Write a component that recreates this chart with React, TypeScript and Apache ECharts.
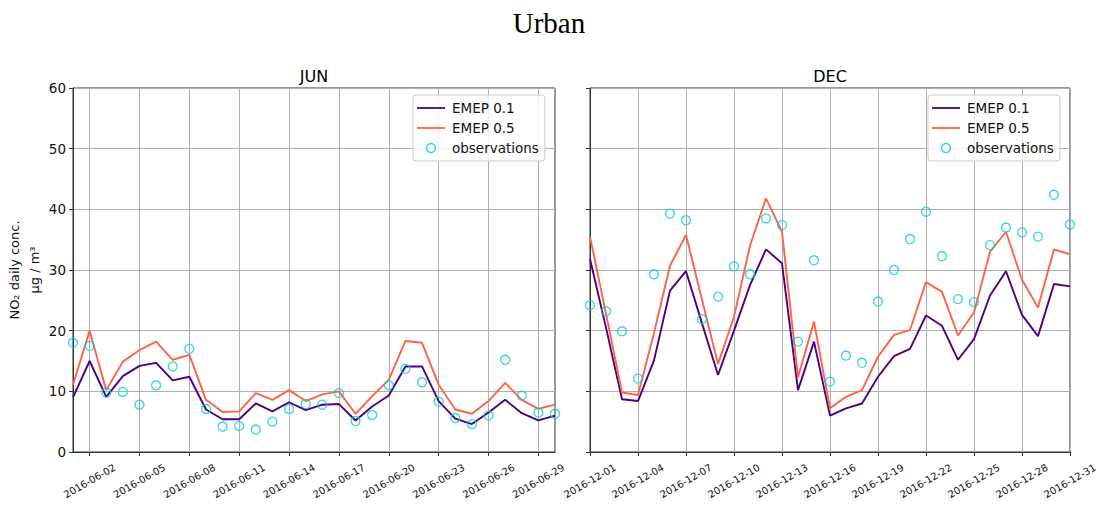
import React, { useEffect, useRef } from "react";
import * as echarts from "echarts";

// Daily dates for each month panel
const monthDates = (prefix: string, days: number): string[] =>
  Array.from({ length: days }, (_, i) => `${prefix}-${String(i + 1).padStart(2, "0")}`);

const junDates = monthDates("2016-06", 30);
const decDates = monthDates("2016-12", 31);

// NO2 daily concentrations (µg / m³), June 2016
const junEmep01 = [9.0, 15.0, 9.1, 12.5, 14.2, 14.7, 11.8, 12.4, 7.0, 5.4, 5.4, 8.0, 6.7, 8.2, 6.9, 7.8, 7.9, 5.2, 7.5, 9.3, 14.1, 14.1, 8.4, 5.5, 4.6, 6.5, 8.6, 6.4, 5.2, 6.0];
const junEmep05 = [11.1, 20.0, 10.2, 14.9, 16.8, 18.2, 15.2, 16.0, 8.6, 6.6, 6.7, 9.7, 8.6, 10.2, 8.4, 9.5, 10.0, 6.3, 9.2, 11.9, 18.3, 18.0, 11.1, 7.0, 6.3, 8.4, 11.4, 8.6, 7.1, 7.8];
const junObs = [18.0, 17.5, 9.8, 9.9, 7.8, 11.0, 14.1, 17.0, 7.1, 4.2, 4.3, 3.7, 5.0, 7.1, 7.9, 7.8, 9.7, 5.1, 6.1, 11.0, 13.7, 11.5, 8.3, 5.6, 4.6, 6.0, 15.2, 9.3, 6.5, 6.3];

// NO2 daily concentrations (µg / m³), December 2016
const decEmep01 = [31.8, 20.5, 8.7, 8.4, 15.1, 26.6, 29.8, 21.2, 12.7, 20.0, 27.5, 33.4, 31.1, 10.2, 18.2, 6.0, 7.2, 8.0, 12.4, 15.8, 17.0, 22.5, 20.8, 15.2, 18.6, 25.8, 29.8, 22.6, 19.1, 27.7, 27.3];
const decEmep05 = [35.5, 22.8, 9.8, 9.4, 19.6, 30.7, 35.8, 25.1, 14.5, 22.3, 34.0, 41.8, 36.3, 12.3, 21.5, 7.2, 9.1, 10.2, 15.7, 19.3, 20.1, 28.0, 26.4, 19.2, 23.0, 33.0, 36.3, 28.4, 23.8, 33.4, 32.6];
const decObs = [24.2, 23.2, 19.9, 12.1, 29.3, 39.3, 38.2, 21.9, 25.6, 30.6, 29.3, 38.5, 37.4, 18.2, 31.6, 11.6, 15.9, 14.7, 24.8, 30.0, 35.1, 39.6, 32.3, 25.2, 24.7, 34.1, 37.0, 36.2, 35.5, 42.4, 37.5];

const seriesNames = ["EMEP 0.1", "EMEP 0.5", "observations"];
const panelTitles = ["JUN", "DEC"];

const FONT = "'DejaVu Sans', 'Noto Sans', sans-serif";
const SERIF = "'Liberation Serif', 'DejaVu Serif', serif";
const PURPLE = "#4b0082";
const ORANGE = "#ff6347";
const CYAN = "#00ced1";
const GRID_LINE = "#b0b0b0";
const SPINE = "#333333";
const TEXT = "#111111";

const LINE_ICON = "path://M0,0H28V1.8H0Z";

const makeXAxis = (gridIndex: number, dates: string[], phase: number) => {
  const every3 = (i: number) => i % 3 === phase;
  return {
    type: "category",
    gridIndex,
    data: dates,
    boundaryGap: false,
    axisLine: { show: true, lineStyle: { color: SPINE, width: 1 } },
    axisTick: { show: true, length: 4, interval: every3, lineStyle: { color: SPINE } },
    axisLabel: {
      interval: every3,
      rotate: 30,
      align: "center",
      verticalAlign: "middle",
      margin: 29,
      fontSize: 10,
      color: TEXT,
      fontFamily: FONT,
    },
    splitLine: { show: true, interval: every3, lineStyle: { color: GRID_LINE, width: 1 } },
  };
};

const makeYAxis = (gridIndex: number, withLabels: boolean) => ({
  type: "value",
  gridIndex,
  min: 0,
  max: 60,
  interval: 10,
  axisLine: { show: true, lineStyle: { color: SPINE, width: 1 } },
  axisTick: { show: true, length: 4, lineStyle: { color: SPINE } },
  axisLabel: { show: withLabels, fontSize: 13.5, color: TEXT, margin: 7, fontFamily: FONT },
  splitLine: { show: true, lineStyle: { color: GRID_LINE, width: 1 } },
  ...(withLabels
    ? {
        name: "NO₂ daily conc.\nµg / m³",
        nameLocation: "middle",
        nameRotate: 90,
        nameGap: 24,
        nameTextStyle: { fontSize: 13, lineHeight: 20, color: TEXT, fontFamily: FONT },
      }
    : {}),
});

const makeSeries = (idx: number, m01: number[], m05: number[], obs: number[]) => [
  {
    name: seriesNames[0],
    type: "line",
    xAxisIndex: idx,
    yAxisIndex: idx,
    data: m01,
    symbol: "none",
    lineStyle: { color: PURPLE, width: 1.9 },
    itemStyle: { color: PURPLE },
    z: 3,
  },
  {
    name: seriesNames[1],
    type: "line",
    xAxisIndex: idx,
    yAxisIndex: idx,
    data: m05,
    symbol: "none",
    lineStyle: { color: ORANGE, width: 1.9 },
    itemStyle: { color: ORANGE },
    z: 4,
  },
  {
    name: seriesNames[2],
    type: "scatter",
    xAxisIndex: idx,
    yAxisIndex: idx,
    data: obs,
    symbol: "circle",
    symbolSize: 9,
    itemStyle: { color: "rgba(0,0,0,0)", borderColor: CYAN, borderWidth: 1.3 },
    z: 5,
  },
];

const makeLegend = (left: number) => ({
  left,
  top: 95,
  orient: "vertical",
  selectedMode: false,
  itemWidth: 28,
  itemHeight: 9,
  itemGap: 6,
  padding: [6, 6, 6, 4],
  backgroundColor: "rgba(255,255,255,0.8)",
  borderColor: "#cccccc",
  borderWidth: 1,
  borderRadius: 3,
  textStyle: { fontSize: 13.5, lineHeight: 14, color: TEXT, fontFamily: FONT, padding: [0, 0, 0, 2] },
  data: [
    { name: seriesNames[0], icon: LINE_ICON, itemStyle: { color: PURPLE } },
    { name: seriesNames[1], icon: LINE_ICON, itemStyle: { color: ORANGE } },
    {
      name: seriesNames[2],
      icon: "circle",
      itemStyle: { color: "#ffffff", borderColor: CYAN, borderWidth: 1.5 },
    },
  ],
});

export default function App() {
  const ref = useRef<HTMLDivElement>(null);

  useEffect(() => {
    if (!ref.current) return;
    const chart = echarts.init(ref.current, undefined, { renderer: "svg" });
    chart.setOption({
      animation: false,
      backgroundColor: "#ffffff",
      textStyle: { fontFamily: FONT },
      title: [
        {
          text: "Urban",
          left: 549,
          top: 8,
          textAlign: "center",
          padding: 0,
          textStyle: { fontFamily: SERIF, fontSize: 29, fontWeight: "normal", color: "#000" },
        },
        {
          text: panelTitles[0],
          left: 314,
          top: 68,
          textAlign: "center",
          padding: 0,
          textStyle: { fontFamily: FONT, fontSize: 16, fontWeight: "normal", color: "#000" },
        },
        {
          text: panelTitles[1],
          left: 830,
          top: 68,
          textAlign: "center",
          padding: 0,
          textStyle: { fontFamily: FONT, fontSize: 16, fontWeight: "normal", color: "#000" },
        },
      ],
      legend: [makeLegend(413), makeLegend(928)],
      grid: [
        { left: 73, top: 88, width: 482, height: 364, show: true, borderColor: SPINE, borderWidth: 1, backgroundColor: "transparent" },
        { left: 590, top: 88, width: 480, height: 364, show: true, borderColor: SPINE, borderWidth: 1, backgroundColor: "transparent" },
      ],
      xAxis: [makeXAxis(0, junDates, 1), makeXAxis(1, decDates, 0)],
      yAxis: [makeYAxis(0, true), makeYAxis(1, false)],
      series: [
        ...makeSeries(0, junEmep01, junEmep05, junObs),
        ...makeSeries(1, decEmep01, decEmep05, decObs),
      ],
    });
    return () => chart.dispose();
  }, []);

  return (
    <div
      ref={ref}
      style={{ position: "fixed", left: 0, top: 0, width: 1105, height: 507, background: "#fff" }}
    />
  );
}
